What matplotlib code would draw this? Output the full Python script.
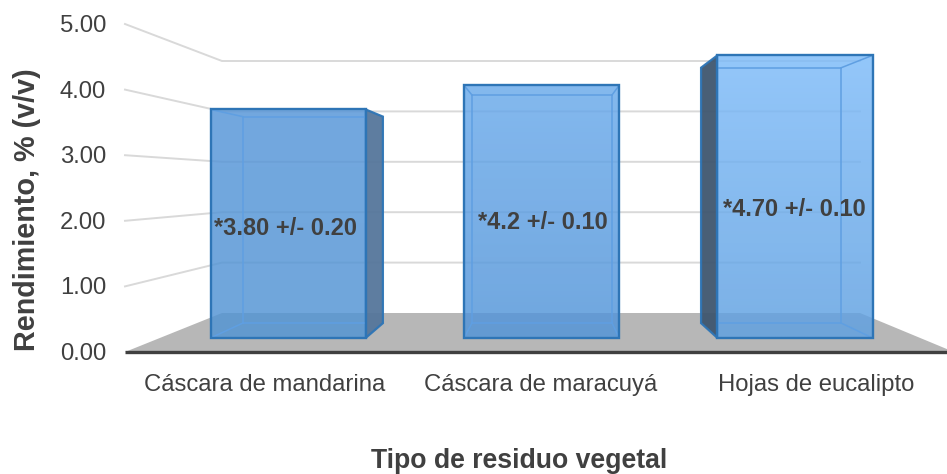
import numpy as np
from matplotlib import pyplot as plt
from matplotlib.colors import to_rgb
from matplotlib.patches import Polygon

plt.rcParams['font.family'] = ['Liberation Sans', 'DejaVu Sans']

# Data
categories = ["Cáscara de mandarina", "Cáscara de maracuyá", "Hojas de eucalipto"]
rendimiento = [3.80, 4.20, 4.70]
etiquetas = ["*3.80 +/- 0.20", "*4.2 +/- 0.10", "*4.70 +/- 0.10"]
y_ticks = [0, 1, 2, 3, 4, 5]
y_labels = ["0.00", "1.00", "2.00", "3.00", "4.00", "5.00"]

# Colors of each bar, top and bottom of the gradient (drawn with alpha)
color_top = ["#5696D8", "#6AAAEB", "#7DBBF9"]
color_bot = ["#5294D4", "#5294D8", "#5FA0E1"]
color_side = ["#55769B", "#55769B", "#3F566F"]


def project(u, v, t):
	# u: 0-1 across the floor, v: axis value, t: depth, 0 front and 1 back
	left = 125 + 97 * t
	right = 954 - 94 * t
	x = left + u * (right - left)
	y = 352 - 39 * t - v * (65.6 - 15.2 * t)
	return x, y


fig = plt.figure(figsize=(9.47, 4.74), dpi=100)
ax = fig.add_axes([0, 0, 1, 1])

# Floor
ax.add_patch(Polygon([project(0, 0, 0), project(0, 0, 1), project(1, 0, 1), project(1, 0, 0)],
	facecolor="#B7B7B7", edgecolor="none", zorder=1))

# Grid lines, side wall then back wall
for v in y_ticks[1:]:
	xs, ys = zip(project(0, v, 0), project(0, v, 1), project(1, v, 1))
	ax.plot(xs, ys, color="#D9D9D9", lw=1.4, zorder=2, solid_joinstyle="miter")

# Bars
t0 = 0.36; t1 = 0.74; half = 0.102; shift = 0.002
for i, val in enumerate(rendimiento):
	u0 = (i + 0.5) / 3 - half + shift
	u1 = (i + 0.5) / 3 + half + shift
	fbl = project(u0, 0, t0); fbr = project(u1, 0, t0); ftl = project(u0, val, t0); ftr = project(u1, val, t0)
	bbl = project(u0, 0, t1); bbr = project(u1, 0, t1); btl = project(u0, val, t1); btr = project(u1, val, t1)

	# Dark side face, the side that shows outside the front face
	if bbr[0] > fbr[0]:
		side = [fbr, bbr, btr, ftr]
	elif bbl[0] < fbl[0]:
		side = [fbl, bbl, btl, ftl]
	else:
		side = None
	if side is not None:
		ax.add_patch(Polygon(side, facecolor=color_side[i], edgecolor="#2E75B6", lw=1.6, alpha=0.95, zorder=3, joinstyle="miter"))

	# Front face with the vertical gradient
	front = Polygon([fbl, fbr, ftr, ftl], facecolor="none", edgecolor="none")
	ax.add_patch(front)
	c0 = np.array(to_rgb(color_top[i]))
	c1 = np.array(to_rgb(color_bot[i]))
	grad = np.linspace(0, 1, 64)[:, None, None] * (c1 - c0)[None, None, :] + c0[None, None, :]
	rgba = np.dstack([grad, np.full((64, 1), 0.83)])
	im = ax.imshow(rgba, extent=[ftl[0], ftr[0], fbl[1], ftl[1]], aspect="auto", zorder=4, interpolation="bilinear")
	im.set_clip_path(front)

	# Inner edges, seen through the front face only
	inner = "#5F9FE2"
	for a, b in [(bbl, bbr), (bbr, btr), (btr, btl), (btl, bbl), (fbl, bbl), (fbr, bbr), (ftl, btl), (ftr, btr)]:
		line, = ax.plot([a[0], b[0]], [a[1], b[1]], color=inner, lw=1.1, zorder=5)
		line.set_clip_path(front)

	# Front edge
	ax.add_patch(Polygon([fbl, fbr, ftr, ftl], facecolor="none", edgecolor="#2E75B6", lw=1.7, zorder=6, joinstyle="miter"))

# Value labels
label_pos = [(285, 228), (543, 222), (794, 209)]
for s, (lx, ly) in zip(etiquetas, label_pos):
	ax.text(lx, ly, s, ha="center", va="center", fontsize=17, fontweight="bold", color="#404040", zorder=8)

# Base line
ax.plot([125, 947], [352, 352], color="#404040", lw=2.4, zorder=7, solid_capstyle="butt")

# Tick labels
for v, s in zip(y_ticks, y_labels):
	ax.text(106, project(0, v, 0)[1] + 2, s, ha="right", va="center", fontsize=17.2, color="#404040")
for x, s in zip([265, 541, 816], categories):
	ax.text(x, 391, s, ha="center", va="baseline", fontsize=17.2, color="#404040")

# Axis titles
ax.text(27, 210, "Rendimiento, % (v/v)", rotation=90, ha="center", va="center", fontsize=20.7, fontweight="bold", color="#404040")
ax.text(519, 468.5, "Tipo de residuo vegetal", ha="center", va="baseline", fontsize=19.2, fontweight="bold", color="#404040")

ax.set_xlim(0, 947)
ax.set_ylim(474, 0)
ax.axis("off")

fig.savefig("out.png", dpi=100)
